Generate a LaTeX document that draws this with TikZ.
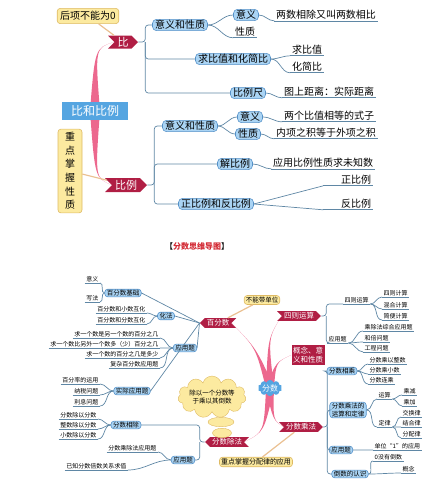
\documentclass[tikz,border=0pt]{standalone}
\usepackage{fontspec}
\setmainfont{Noto Sans CJK SC}
\usetikzlibrary{calc,backgrounds,shapes.symbols,shapes.geometric}

\definecolor{dred}{RGB}{176,30,68}
\definecolor{lblue}{RGB}{170,212,244}
\definecolor{bblue}{RGB}{85,145,200}
\definecolor{cblue}{RGB}{85,165,225}
\definecolor{ylw}{RGB}{252,234,160}
\definecolor{ylwd}{RGB}{222,186,100}
\definecolor{pk}{RGB}{236,104,142}
\definecolor{lnc}{RGB}{95,135,165}
\definecolor{tanc}{RGB}{234,192,145}
\definecolor{titred}{RGB}{210,40,50}

\newcommand{\fsz}[1]{\fontsize{#1}{#1}\selectfont}
% 粉色主干
\newcommand{\limb}[4]{%
  \fill[pk] ($(#1)!#4!90:(#2)$) .. controls (#2) .. (#3)
    .. controls (#2) .. ($(#1)!#4!-90:(#2)$) -- cycle;}

\tikzset{
  redbox/.style={shape=signal, signal from=west, signal to=east, fill=dred, text=white, inner xsep=2pt, inner ysep=1.5pt},
  redl/.style={redbox, signal from=east, signal to=west},
  bbox/.style={draw=bblue, fill=lblue, rounded corners=4pt, line width=0.6pt, inner xsep=2.5pt, inner ysep=1pt},
  sbox/.style={bbox, font=\fsz{6.5}, rounded corners=3pt, inner xsep=2pt, inner ysep=0.8pt},
  ybox/.style={draw=ylwd, fill=ylw, rounded corners=3pt, line width=0.6pt},
  ln/.style={draw=lnc, line width=0.7pt},
  leaf/.style={inner xsep=1.5pt, inner ysep=1pt, append after command={(\tikzlastnode.south west) edge[ln] (\tikzlastnode.south east)}},
  tanln/.style={draw=tanc, line width=1.2pt},
}

\begin{document}
\begin{tikzpicture}[x=1pt, y=-1pt,
  every node/.style={font=\fsz{6}},
  big/.style={font=\fsz{10}}]
\useasboundingbox (0,0) rectangle (424,499);

% 比和比例
\node[ybox, big, inner sep=3pt] (hxbn) at (88,16) {后项不能为0};
\node[redbox, font=\fsz{11}, minimum width=30pt, minimum height=13pt] (bi) at (123,42) {比};
\node[fill=cblue, text=white, font=\fsz{12}, minimum width=66pt, minimum height=17pt] (bhbl) at (95,111) {比和比例};
\node[ybox, align=center, font=\fontsize{10}{13.6}\selectfont, minimum width=24pt, minimum height=83pt] (zdzw) at (70,171) {重\\点\\掌\\握\\性\\质};
\node[redbox, font=\fsz{11}, minimum width=42pt, minimum height=14pt] (bili) at (126,185) {比例};

% 比
\node[bbox, big] (yxxz) at (180,25) {意义和性质};
\node[bbox, big] (qbz) at (233,59) {求比值和化简比};
\node[bbox, big] (blc) at (248,93) {比例尺};
\node[bbox, big] (yy) at (246,15) {意义};
\node[leaf, big] (xz) at (245,32) {性质};
\node[leaf, big] (xcbz) at (326,15) {两数相除又叫两数相比};
\node[leaf, big] (qbzl) at (307,50) {求比值};
\node[leaf, big] (hjb) at (307,67) {化简比};
\node[leaf, big] (tsjl) at (329,92) {图上距离：实际距离};

% 比例
\node[bbox, big] (yxxz2) at (190,126) {意义和性质};
\node[bbox, big] (yy2) at (250,117) {意义};
\node[bbox, big] (xz2) at (248,134) {性质};
\node[leaf, big] (lgbz) at (329,116) {两个比值相等的式子};
\node[leaf, big] (nxzj) at (326,133) {内项之积等于外项之积};
\node[bbox, big] (jbl) at (235,164) {解比例};
\node[leaf, big] (yybl) at (323,163) {应用比例性质求未知数};
\node[bbox, big] (zfbl) at (216,204) {正比例和反比例};
\node[leaf, big, text width=46pt, align=right] (zbl) at (348,180) {正比例};
\node[leaf, big, text width=46pt, align=right] (fbl) at (348,204) {反比例};

\draw[ln, rounded corners=3pt] (bi.east) -- ++(7,0) coordinate (bk1) |- (yxxz.west);
\draw[ln, rounded corners=3pt] (bk1) |- (qbz.west);
\draw[ln, rounded corners=3pt] (bk1) |- (blc.west);
\draw[ln] (yxxz.east) to[out=0,in=180] (yy.west);
\draw[ln] (yxxz.east) to[out=0,in=180] (xz.south west);
\draw[ln] (yy.east) to[out=0,in=180] (xcbz.south west);
\draw[ln] (qbz.east) to[out=0,in=180] (qbzl.south west);
\draw[ln] (qbz.east) to[out=0,in=180] (hjb.south west);
\draw[ln] (blc.east) to[out=0,in=180] (tsjl.south west);

\draw[ln, rounded corners=3pt] (bili.east) -- ++(7,0) coordinate (bk2) |- (yxxz2.west);
\draw[ln, rounded corners=3pt] (bk2) |- (jbl.west);
\draw[ln, rounded corners=3pt] (bk2) |- (zfbl.west);
\draw[ln] (yxxz2.east) to[out=0,in=180] (yy2.west);
\draw[ln] (yxxz2.east) to[out=0,in=180] (xz2.west);
\draw[ln] (yy2.east) to[out=0,in=180] (lgbz.south west);
\draw[ln] (xz2.east) to[out=0,in=180] (nxzj.south west);
\draw[ln] (jbl.east) to[out=0,in=180] (yybl.south west);
\draw[ln] (zfbl.east) -- (zbl.south west);
\draw[ln] (zfbl.east) -- (fbl.south west);

\draw[tanln] (hxbn) -- (bi);
\draw[tanln] (zdzw) -- (bili);

% 标题
\node[font=\fsz{8}] (ttl) at (197,246) {【\textcolor{titred}{\bfseries 分数思维导图}】};

% 分数
\node[cloud, cloud puffs=10, aspect=2, fill=cblue, text=white, font=\fsz{8}, inner sep=0pt] (fs) at (270,388) {分数};
\node[redl, font=\fsz{7.5}] (bfs) at (218,323) {百分数};
\node[redbox, font=\fsz{7.5}] (szys) at (299,316) {四则运算};
\node[fill=dred, text=white, align=center, font=\fontsize{7.5}{9.5}\selectfont, inner sep=1.5pt] (gnyx) at (308,355) {概念、意\\义和性质};
\node[redbox, font=\fsz{7.5}] (fscf) at (301,427) {分数乘法};
\node[redl, font=\fsz{7.5}] (fscu) at (227,442) {分数除法};

\node[ybox, font=\fsz{6.5}, inner sep=1.5pt] (bndw) at (262,300) {不能带单位};
\node[ybox, font=\fsz{7}, inner sep=1.5pt] (zdfp) at (256,462) {重点掌握分配律的应用};
\node[cloud, cloud puffs=11, aspect=2.2, draw=ylwd, fill=ylw, align=center, font=\fontsize{6.5}{8}\selectfont, inner sep=0pt] (cyfs) at (212,397) {除以一个分数等\\于乘以其倒数};
\node[ellipse, draw=ylwd, fill=ylw, minimum width=26pt, minimum height=9pt] (pp1) at (221,422) {};
\node[ellipse, draw=ylwd, fill=ylw, minimum width=19pt, minimum height=7pt] (pp2) at (222,433) {};

% 百分数
\node[sbox] (bfsjc) at (123,293) {百分数基础};
\node[sbox] (hf) at (166,316) {化法};
\node[sbox] (yyt1) at (185,348) {应用题};
\node[sbox] (sjyy) at (132,391) {实际应用题};
\node[leaf, anchor=east] (yiyi) at (100,279) {意义};
\node[leaf, anchor=east] (xiefa) at (100,298) {写法};
\node[leaf, anchor=east] (bxhh) at (147,309) {百分数和小数互化};
\node[leaf, anchor=east] (bfhh) at (147,320) {百分数和分数互化};
\node[leaf, anchor=east] (yq1) at (160,334) {求一个数是另一个数的百分之几};
\node[leaf, anchor=east] (yq2) at (160,344) {求一个数比另外一个数多（少）百分之几};
\node[leaf, anchor=east] (yq3) at (160,354) {求一个数的百分之几是多少};
\node[leaf, anchor=east] (yq4) at (160,364) {复杂百分数应用题};
\node[leaf, anchor=east] (bflv) at (100,380) {百分率的运用};
\node[leaf, anchor=east] (nswt) at (100,391) {纳税问题};
\node[leaf, anchor=east] (lxwt) at (100,402) {利息问题};

\draw[ln] (bfs.west) -- (bfsjc.east);
\draw[ln] (bfs.west) -- (hf.east);
\draw[ln] (bfs.west) -- (yyt1.east);
\draw[ln] (bfs.west) -- (sjyy.east);
\foreach \n in {yiyi,xiefa} \draw[ln] (bfsjc.west) to[out=180,in=0] (\n.south east);
\foreach \n in {bxhh,bfhh} \draw[ln] (hf.west) to[out=180,in=0] (\n.south east);
\foreach \n in {yq1,yq2,yq3,yq4} \draw[ln] (yyt1.west) to[out=180,in=0] (\n.south east);
\foreach \n in {bflv,nswt,lxwt} \draw[ln] (sjyy.west) to[out=180,in=0] (\n.south east);

% 分数除法
\node[sbox] (fsxc) at (126,425) {分数相除};
\node[sbox] (yyt2) at (183,460) {应用题};
\node[leaf, anchor=east] (fcf) at (98,415) {分数除以分数};
\node[leaf, anchor=east] (zcf) at (98,425) {整数除以分数};
\node[leaf, anchor=east] (xcf) at (98,435) {小数除以分数};
\node[leaf, anchor=east] (fccy) at (158,448) {分数乘除法应用题};
\node[leaf, anchor=east] (yzbs) at (128,466) {已知分数倍数关系求值};

\draw[ln, rounded corners=3pt] (fscu.west) -- ++(-5,0) coordinate (bk3) |- (fsxc.east);
\draw[ln, rounded corners=3pt] (bk3) |- (yyt2.east);
\foreach \n in {fcf,zcf,xcf} \draw[ln] (fsxc.west) to[out=180,in=0] (\n.south east);
\foreach \n in {fccy,yzbs} \draw[ln] (yyt2.west) to[out=180,in=0] (\n.south east);

% 四则运算
\node[leaf, anchor=west] (szl) at (343,300) {四则运算};
\node[leaf, anchor=west] (yytl) at (327,339) {应用题};
\node[leaf, anchor=west] (szjs) at (382,293) {四则计算};
\node[leaf, anchor=west] (hhjs) at (382,305) {混合计算};
\node[leaf, anchor=west] (jbjs) at (382,316) {简便计算};
\node[leaf, anchor=west] (ccyy) at (363,327) {乘除法综合应用题};
\node[leaf, anchor=west] (hbwt) at (363,338) {和倍问题};
\node[leaf, anchor=west] (gcwt) at (363,348) {工程问题};

\draw[ln, rounded corners=3pt] (szys.east) -- ++(5,0) coordinate (bk4) |- (szl.south west);
\draw[ln, rounded corners=3pt] (bk4) |- (yytl.south west);
\foreach \n in {szjs,hhjs,jbjs} \draw[ln] (szl.south east) to[out=0,in=180] (\n.south west);
\foreach \n in {ccyy,hbwt,gcwt} \draw[ln] (yytl.south east) to[out=0,in=180] (\n.south west);

% 分数乘法
\node[sbox] (fsxc2) at (342,371) {分数相乘};
\node[sbox, align=center, font=\fontsize{6.5}{8}\selectfont] (ysdl) at (348,410) {分数乘法的\\运算和定律};
\node[sbox] (yyt3) at (341,450) {应用题};
\node[sbox] (dsrs) at (350,474) {倒数的认识};
\node[leaf, anchor=west] (fczs) at (368,360) {分数乘以整数};
\node[leaf, anchor=west] (fcxs) at (368,370) {分数乘小数};
\node[leaf, anchor=west] (fslc) at (368,380) {分数连乘};
\node[leaf, anchor=west] (yunsuan) at (377,395) {运算};
\node[leaf, anchor=west] (dinglv) at (377,423) {定律};
\node[leaf, anchor=west] (cjian) at (402,391) {乘减};
\node[leaf, anchor=west] (cjia) at (402,402) {乘加};
\node[leaf, anchor=west] (jhl) at (401,413) {交换律};
\node[leaf, anchor=west] (jhl2) at (401,423) {结合律};
\node[leaf, anchor=west] (fpl) at (401,434) {分配律};
\node[leaf, anchor=west] (dw1) at (373,446) {单位“1”的应用};
\node[leaf, anchor=west] (mdsd) at (373,457) {0没有倒数};
\node[leaf, anchor=west] (gainian) at (401,469) {概念};

\draw[ln, rounded corners=3pt] (fscf.east) -- ++(4,0) coordinate (bk5) |- (fsxc2.west);
\draw[ln, rounded corners=3pt] (bk5) |- (ysdl.west);
\draw[ln, rounded corners=3pt] (bk5) |- (yyt3.west);
\draw[ln, rounded corners=3pt] (bk5) |- (dsrs.west);
\foreach \n in {fczs,fcxs,fslc} \draw[ln] (fsxc2.east) to[out=0,in=180] (\n.south west);
\foreach \n in {yunsuan,dinglv} \draw[ln] (ysdl.east) to[out=0,in=180] (\n.south west);
\foreach \n in {cjian,cjia} \draw[ln] (yunsuan.south east) to[out=0,in=180] (\n.south west);
\foreach \n in {jhl,jhl2,fpl} \draw[ln] (dinglv.south east) to[out=0,in=180] (\n.south west);
\draw[ln] (yyt3.east) to[out=0,in=180] (dw1.south west);
\foreach \n in {mdsd,gainian} \draw[ln] (dsrs.east) to[out=0,in=180] (\n.south west);

\draw[tanln] (bndw) -- (bfs);
\draw[tanln] (zdfp) -- (fscf);

\begin{scope}[on background layer]
\limb{bhbl.center}{95,48}{bi.west}{5pt}
\limb{bhbl.center}{95,178}{bili.west}{5pt}
\limb{fs.center}{256,348}{bfs.east}{4pt}
\limb{fs.center}{268,338}{szys.west}{4pt}
\limb{fs.center}{276,362}{gnyx.west}{4pt}
\limb{fs.center}{273,420}{fscf.west}{4pt}
\limb{fs.center}{264,432}{fscu.east}{4pt}
\end{scope}
\end{tikzpicture}
\end{document}
